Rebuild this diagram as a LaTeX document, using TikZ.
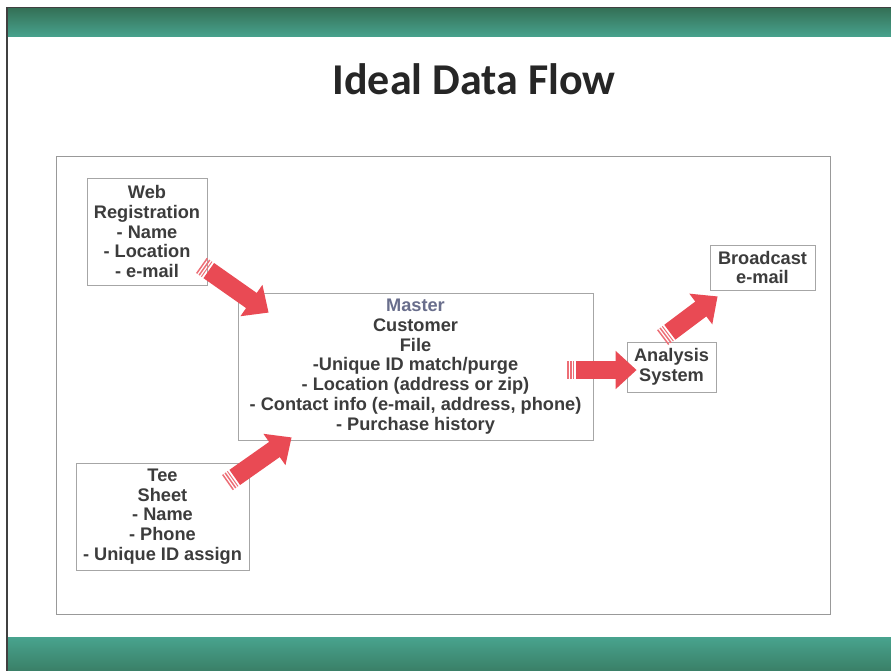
\documentclass[tikz,border=0pt]{standalone}
\usepackage{fontspec}
\setmainfont{Liberation Sans}
\newfontfamily\titlefont{Carlito}
\usetikzlibrary{arrows.meta,calc}

\definecolor{bandgreen}{RGB}{52,112,86}
\definecolor{bandteal}{RGB}{72,163,142}
\definecolor{arrowred}{RGB}{233,74,84}
\definecolor{textgray}{RGB}{60,60,60}
\definecolor{masterblue}{RGB}{105,110,140}

\begin{document}
\begin{tikzpicture}[x=1pt,y=-1pt,
    box/.style={draw=gray!70, line width=0.8pt, inner sep=0pt, align=center, text=textgray,
        font=\bfseries\fontsize{18.2}{19.8}\selectfont},
    blockarrow/.style={draw=arrowred, line width=18.5pt, -{Triangle[length=21pt,width=37pt]}},
    stripes/.style={draw=arrowred!80, line width=18.5pt, dash pattern=on 1.5pt off 1.5pt}]
    \useasboundingbox (0,0) rectangle (891,671);
    % Slide background
    \fill[white] (0,0) rectangle (891,671);
    \shade[top color=bandgreen, bottom color=bandteal] (7,8) rectangle (891,37);
    \shade[top color=bandteal, bottom color=bandgreen!70!bandteal] (7,637) rectangle (891,671);
    \draw[black!75, line width=1.2pt] (7,671) -- (7,7.5) -- (891,7.5);

    % Title
    \node[text=black!85] (title) at (474,79) {\titlefont\bfseries\fontsize{44}{50}\selectfont Ideal Data Flow};

    % Frame
    \draw[gray!80, line width=1pt] (56,157) rectangle (830,614);

    % Sources
    \node[box, minimum width=120pt, minimum height=107pt] (web) at (147,231.5)
        {Web\\Registration\\- Name\\- Location\\- e-mail};
    \node[box, minimum width=173pt, minimum height=107pt] (tee) at (162.5,516.5)
        {Tee\\Sheet\\- Name\\- Phone\\- Unique ID assign};

    % Master file
    \node[box, minimum width=355pt, minimum height=147pt] (master) at (415.5,366.5)
        {\textcolor{masterblue}{Master}\\Customer\\File\\-Unique ID match/purge\\- Location (address or zip)\\- Contact info (e-mail, address, phone)\\- Purchase history};

    % Outputs
    \node[box, minimum width=89pt, minimum height=50pt] (analysis) at (671.5,367) {Analysis\\System};
    \node[box, minimum width=105pt, minimum height=45pt] (broadcast) at (762.5,267.5) {Broadcast\\e-mail};

    % Arrow ends
    \coordinate (webout) at ($(web.south east)+(-6,-20)$);
    \coordinate (masterin1) at ($(master.north west)+(31,20)$);
    \coordinate (teeout) at ($(tee.north east)+(-22,20)$);
    \coordinate (masterin2) at ($(master.south west)+(54,-3)$);
    \coordinate (masterout) at ($(master.east)+(-26,3.5)$);
    \coordinate (analysisin) at ($(analysis.west)+(10,3)$);
    \coordinate (analysisout) at ($(analysis.north west)+(36,-4)$);
    \coordinate (broadcastin) at ($(broadcast.south west)+(8,6)$);

    % Striped block arrows
    \draw[stripes] (webout) -- ($(webout)!7pt!(masterin1)$);
    \draw[blockarrow] ($(webout)!9pt!(masterin1)$) -- (masterin1);
    \draw[stripes] (teeout) -- ($(teeout)!7pt!(masterin2)$);
    \draw[blockarrow] ($(teeout)!9pt!(masterin2)$) -- (masterin2);
    \draw[stripes] (masterout) -- ($(masterout)!7pt!(analysisin)$);
    \draw[blockarrow] ($(masterout)!9pt!(analysisin)$) -- (analysisin);
    \draw[stripes] (analysisout) -- ($(analysisout)!7pt!(broadcastin)$);
    \draw[blockarrow] ($(analysisout)!9pt!(broadcastin)$) -- (broadcastin);
\end{tikzpicture}
\end{document}
